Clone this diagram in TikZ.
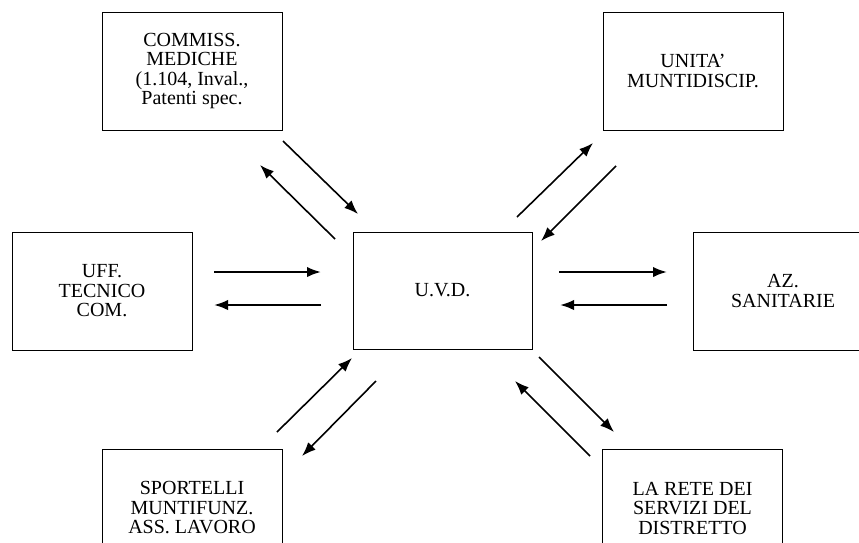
\documentclass[tikz,border=0pt]{standalone}
\usepackage{fontspec}
\setmainfont{Liberation Serif}
\usetikzlibrary{arrows.meta}
\begin{document}
\begin{tikzpicture}[x=1pt,y=1pt,
  boxnode/.style={draw, line width=1pt, rectangle, inner sep=0pt,
    minimum width=180pt, minimum height=118pt, align=center,
    font=\fontsize{20}{19.5}\selectfont},
  diagarr/.style={line width=1.6pt, -{Latex[length=14pt,width=10.5pt]}},
  horarr/.style={line width=2.2pt, -{Latex[length=14pt,width=10.5pt]}}]
\useasboundingbox (0,-542) rectangle (859,0);
\clip (0,-542) rectangle (859,0);
% boxes
\node[boxnode] (cm)   at (192,-71)   {COMMISS.\\MEDICHE\\(1.104, Inval.,\\Patenti spec.};
\node[boxnode] (un)   at (693,-71)   {UNITA'\\MUNTIDISCIP.};
\node[boxnode] (uff)  at (102,-291)  {UFF.\\TECNICO\\COM.};
\node[boxnode, minimum width=179pt, minimum height=117pt] (uvd) at (442.5,-290.5) {U.V.D.};
\node[boxnode] (az)   at (783,-291)  {AZ.\\SANITARIE};
\node[boxnode] (sp)   at (192,-508)  {SPORTELLI\\MUNTIFUNZ.\\ASS. LAVORO};
\node[boxnode] (rete) at (692.5,-508) {LA RETE DEI\\SERVIZI DEL\\DISTRETTO};
% arrow end points
\coordinate (a1s) at (283,-141); \coordinate (a1e) at (358,-214);
\coordinate (a2s) at (335,-239); \coordinate (a2e) at (260,-165);
\coordinate (a3s) at (517,-217); \coordinate (a3e) at (593,-143);
\coordinate (a4s) at (616,-166); \coordinate (a4e) at (541,-241);
\coordinate (a5s) at (214,-272); \coordinate (a5e) at (321,-272);
\coordinate (a6s) at (321,-305); \coordinate (a6e) at (214,-305);
\coordinate (a7s) at (559,-272); \coordinate (a7e) at (667,-272);
\coordinate (a8s) at (667,-305); \coordinate (a8e) at (560,-305);
\coordinate (a9s) at (277,-432); \coordinate (a9e) at (352,-358);
\coordinate (a10s) at (376,-381); \coordinate (a10e) at (302,-456);
\coordinate (a11s) at (539,-357); \coordinate (a11e) at (614,-432);
\coordinate (a12s) at (590,-456); \coordinate (a12e) at (515,-381);
% arrows
\draw[diagarr] (a1s) -- (a1e);
\draw[diagarr] (a2s) -- (a2e);
\draw[diagarr] (a3s) -- (a3e);
\draw[diagarr] (a4s) -- (a4e);
\draw[horarr] (a5s) -- (a5e);
\draw[horarr] (a6s) -- (a6e);
\draw[horarr] (a7s) -- (a7e);
\draw[horarr] (a8s) -- (a8e);
\draw[diagarr] (a9s) -- (a9e);
\draw[diagarr] (a10s) -- (a10e);
\draw[diagarr] (a11s) -- (a11e);
\draw[diagarr] (a12s) -- (a12e);
\end{tikzpicture}
\end{document}
